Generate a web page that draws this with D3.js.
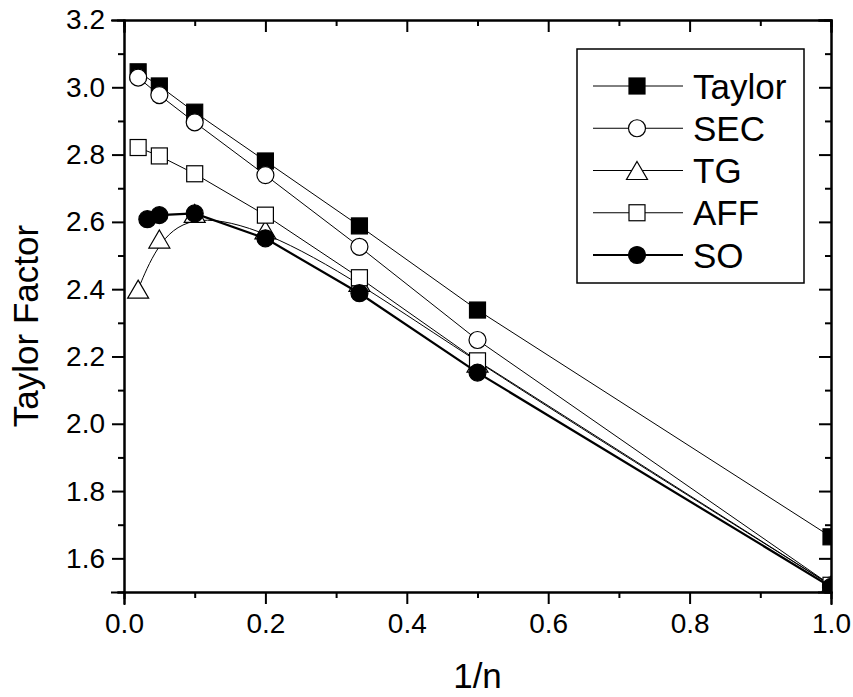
<!DOCTYPE html>
<html>
<head>
<meta charset="utf-8">
<script src="https://cdn.jsdelivr.net/npm/d3@7"></script>
<style>
  body { margin: 0; background: #fff; }
  svg { display: block; font-family: "Liberation Sans", Arial, sans-serif; }
  .axis path, .axis line { stroke: #000; stroke-width: 2px; }
  .axis text { font-size: 28px; fill: #000; }
</style>
</head>
<body>
<svg id="chart" width="853" height="697"></svg>
<script>
// data: x is 1/n
var xN = [0.02, 0.05, 0.1, 0.2, 0.333, 0.5, 1.0];
var xSO = [0.033, 0.05, 0.1, 0.2, 0.333, 0.5, 1.0];
var taylorVals = [3.046, 3.004, 2.926, 2.781, 2.588, 2.338, 1.664];
var secVals = [3.029, 2.977, 2.896, 2.739, 2.526, 2.249, 1.52];
var tgVals = [2.40, 2.549, 2.625, 2.576, 2.42, 2.18, 1.52];
var affVals = [2.821, 2.796, 2.743, 2.620, 2.434, 2.187, 1.52];
var soVals = [2.608, 2.620, 2.625, 2.551, 2.388, 2.152, 1.515];

var xMajor = [0, 0.2, 0.4, 0.6, 0.8, 1.0];
var xMinor = [0.1, 0.3, 0.5, 0.7, 0.9];
var yMajor = [1.6, 1.8, 2.0, 2.2, 2.4, 2.6, 2.8, 3.0, 3.2];
var yMinor = [1.5, 1.7, 1.9, 2.1, 2.3, 2.5, 2.7, 2.9, 3.1];

var series = [
  { name: "Taylor", x: xN, y: taylorVals, sym: "square", fill: "#000", width: 1, curve: d3.curveLinear },
  { name: "SEC", x: xN, y: secVals, sym: "circle", fill: "#fff", width: 1, curve: d3.curveLinear },
  { name: "TG", x: xN, y: tgVals, sym: "triangle", fill: "#fff", width: 1, curve: d3.curveBasis },
  { name: "AFF", x: xN, y: affVals, sym: "square", fill: "#fff", width: 1, curve: d3.curveLinear },
  { name: "SO", x: xSO, y: soVals, sym: "circle", fill: "#000", width: 2.2, curve: d3.curveLinear }
];

var W = 853, H = 697,
    margin = { left: 124, right: 22, top: 20, bottom: 105 },
    pw = W - margin.left - margin.right,
    ph = H - margin.top - margin.bottom;

var x = d3.scaleLinear().domain([0, 1.0]).range([0, pw]);
var y = d3.scaleLinear().domain([1.5, 3.2]).range([ph, 0]);

var svg = d3.select("#chart");
var g = svg.append("g").attr("transform", "translate(" + margin.left + "," + margin.top + ")");

g.append("clipPath").attr("id", "clip")
  .append("rect").attr("width", pw).attr("height", ph);

// symbol shapes
var drawSym = function(sel, sym, fill) {
  if (sym === "square") {
    sel.append("rect").attr("x", -8).attr("y", -8).attr("width", 16).attr("height", 16);
  } else if (sym === "circle") {
    sel.append("circle").attr("r", 8.5);
  } else {
    sel.append("path").attr("d", "M0,-9L10.5,9L-10.5,9Z");
  }
  sel.selectAll("rect,circle,path")
    .attr("fill", fill)
    .attr("stroke", "#000")
    .attr("stroke-width", 1.2);
};

// lines + symbols
var plot = g.append("g").attr("clip-path", "url(#clip)");
series.forEach(function(s) {
  var pts = s.x.map(function(v, i) { return [v, s.y[i]]; });
  var line = d3.line().x(function(d) { return x(d[0]); }).y(function(d) { return y(d[1]); }).curve(s.curve);
  plot.append("path")
    .attr("d", line(pts))
    .attr("fill", "none")
    .attr("stroke", "#000")
    .attr("stroke-width", s.width);
  pts.forEach(function(p) {
    var m = plot.append("g").attr("transform", "translate(" + x(p[0]) + "," + y(p[1]) + ")");
    drawSym(m, s.sym, s.fill);
  });
});

// axes: bottom and left outward with labels, top and right inward
var fmt = d3.format(".1f");
g.append("g").attr("class", "axis").attr("transform", "translate(0," + ph + ")")
  .call(d3.axisBottom(x).tickValues(xMajor).tickSize(12).tickPadding(9).tickFormat(fmt));
g.append("g").attr("class", "axis").attr("transform", "translate(0," + ph + ")")
  .call(d3.axisBottom(x).tickValues(xMinor).tickSize(6).tickFormat(""));
g.append("g").attr("class", "axis")
  .call(d3.axisLeft(y).tickValues(yMajor).tickSize(12).tickPadding(7).tickFormat(fmt));
g.append("g").attr("class", "axis")
  .call(d3.axisLeft(y).tickValues(yMinor).tickSize(6).tickFormat(""));
g.append("g").attr("class", "axis")
  .call(d3.axisTop(x).tickValues(xMajor).tickSize(-12).tickFormat(""));
g.append("g").attr("class", "axis")
  .call(d3.axisTop(x).tickValues(xMinor).tickSize(-6).tickFormat(""));
g.append("g").attr("class", "axis").attr("transform", "translate(" + pw + ",0)")
  .call(d3.axisRight(y).tickValues(yMajor).tickSize(-12).tickFormat(""));
g.append("g").attr("class", "axis").attr("transform", "translate(" + pw + ",0)")
  .call(d3.axisRight(y).tickValues(yMinor).tickSize(-6).tickFormat(""));
g.selectAll(".axis path.domain").attr("stroke-linecap", "square");

// axis titles
svg.append("text")
  .attr("x", margin.left + pw / 2).attr("y", 688)
  .attr("text-anchor", "middle")
  .style("font-size", "35px")
  .text("1/n");
svg.append("text")
  .attr("transform", "translate(38,326) rotate(-90)")
  .attr("text-anchor", "middle")
  .style("font-size", "35px")
  .text("Taylor Factor");

// legend
var leg = svg.append("g");
leg.append("rect")
  .attr("x", 577).attr("y", 49).attr("width", 227).attr("height", 234)
  .attr("fill", "#fff").attr("stroke", "#000").attr("stroke-width", 1.5);
var rowY = d3.scalePoint().domain(series.map(function(s) { return s.name; })).range([86, 255]);
series.forEach(function(s) {
  var r = leg.append("g").attr("transform", "translate(0," + rowY(s.name) + ")");
  r.append("line").attr("x1", 593).attr("x2", 683).attr("y1", 0).attr("y2", 0)
    .attr("stroke", "#000").attr("stroke-width", s.width);
  var m = r.append("g").attr("transform", "translate(637,0)");
  drawSym(m, s.sym, s.fill);
  r.append("text").attr("x", 693).attr("y", 12.5)
    .style("font-size", "35px")
    .text(s.name);
});
</script>
</body>
</html>
